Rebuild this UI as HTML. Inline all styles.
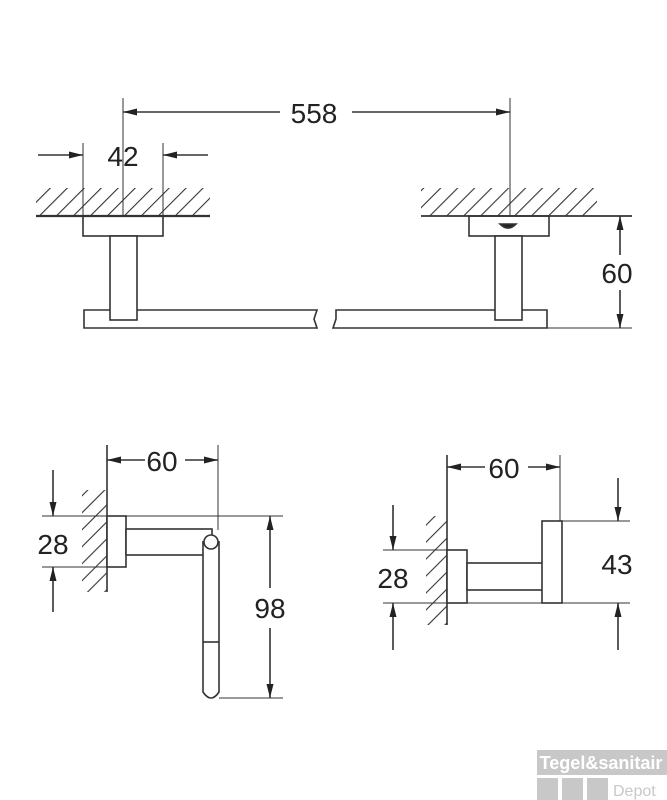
<!DOCTYPE html>
<html><head><style>body{margin:0;background:#fff}svg{display:block}</style></head><body>
<svg width="667" height="800" viewBox="0 0 667 800" xmlns="http://www.w3.org/2000/svg" font-family="Liberation Sans, sans-serif">
<defs>
<marker id="a" viewBox="0 0 14 7" refX="14" refY="3.5" markerWidth="14" markerHeight="7" orient="auto" markerUnits="userSpaceOnUse"><path d="M0,0L14,3.5L0,7z" fill="#222"/></marker>
<pattern id="h" width="12" height="12" patternUnits="userSpaceOnUse" patternTransform="rotate(45)"><line x1="0" y1="0" x2="0" y2="12" stroke="#333" stroke-width="2.2"/></pattern>
</defs>
<g stroke="#333" stroke-width="1.6" fill="none">
<line x1="123" y1="98" x2="123" y2="216" stroke-width="1"/>
<line x1="510" y1="98" x2="510" y2="216" stroke-width="1"/>
<line x1="280" y1="112" x2="123" y2="112" marker-end="url(#a)"/>
<line x1="352" y1="112" x2="510" y2="112" marker-end="url(#a)"/>
<line x1="83" y1="143" x2="83" y2="216" stroke-width="1"/>
<line x1="163" y1="143" x2="163" y2="216" stroke-width="1"/>
<line x1="38" y1="155" x2="83" y2="155" marker-end="url(#a)"/>
<line x1="208" y1="155" x2="163" y2="155" marker-end="url(#a)"/>
<rect x="36" y="188" width="174" height="28" fill="url(#h)" stroke="none"/>
<line x1="36" y1="216" x2="210" y2="216" stroke-width="2.2"/>
<rect x="83" y="216" width="80" height="20"/>
<path d="M84,310 L317,310 L314,319 L317,328 L84,328 Z" fill="#fff"/>
<path d="M336,310 L547,310 L547,328 L333,328 L336,319 Z" fill="#fff"/>
<rect x="110" y="236" width="27" height="84" fill="#fff"/>
<rect x="421" y="188" width="176" height="28" fill="url(#h)" stroke="none"/>
<line x1="421" y1="216" x2="632" y2="216" stroke-width="1.8"/>
<rect x="469" y="216" width="80" height="20"/>
<path d="M500,224 Q508,232 516,224 Z" fill="#222"/>
<rect x="495" y="236" width="27" height="84" fill="#fff"/>
<line x1="547" y1="328" x2="632" y2="328" stroke-width="1"/>
<line x1="620" y1="255" x2="620" y2="216" marker-end="url(#a)"/>
<line x1="620" y1="290" x2="620" y2="328" marker-end="url(#a)"/>
<rect x="82" y="490" width="25" height="102" fill="url(#h)" stroke="none"/>
<line x1="107" y1="445" x2="107" y2="592" stroke-width="1.6"/>
<line x1="218" y1="445" x2="218" y2="530" stroke-width="1"/>
<line x1="145" y1="460" x2="107" y2="460" marker-end="url(#a)"/>
<line x1="185" y1="460" x2="218" y2="460" marker-end="url(#a)"/>
<line x1="42" y1="516" x2="283" y2="516" stroke-width="1"/>
<line x1="42" y1="567" x2="125" y2="567" stroke-width="1"/>
<line x1="53" y1="470" x2="53" y2="516" marker-end="url(#a)"/>
<line x1="53" y1="612" x2="53" y2="567" marker-end="url(#a)"/>
<rect x="107" y="516" width="19" height="51" fill="#fff"/>
<rect x="126" y="529" width="86" height="26" fill="#fff"/>
<path d="M203,541 L203,692 Q211,704 219,692 L219,541" fill="#fff"/>
<line x1="203" y1="642" x2="219" y2="642"/>
<circle cx="211" cy="542" r="7" fill="#fff"/>
<line x1="219" y1="698" x2="283" y2="698" stroke-width="1"/>
<line x1="270" y1="588" x2="270" y2="516" marker-end="url(#a)"/>
<line x1="270" y1="628" x2="270" y2="698" marker-end="url(#a)"/>
<rect x="426" y="516" width="21" height="109" fill="url(#h)" stroke="none"/>
<line x1="447" y1="455" x2="447" y2="625" stroke-width="1.6"/>
<line x1="560" y1="455" x2="560" y2="521" stroke-width="1"/>
<line x1="485" y1="467" x2="447" y2="467" marker-end="url(#a)"/>
<line x1="528" y1="467" x2="560" y2="467" marker-end="url(#a)"/>
<line x1="383" y1="550" x2="465" y2="550" stroke-width="1"/>
<line x1="383" y1="603" x2="630" y2="603" stroke-width="1"/>
<line x1="562" y1="521" x2="630" y2="521" stroke-width="1"/>
<line x1="393" y1="505" x2="393" y2="550" marker-end="url(#a)"/>
<line x1="393" y1="650" x2="393" y2="603" marker-end="url(#a)"/>
<line x1="618" y1="478" x2="618" y2="521" marker-end="url(#a)"/>
<line x1="618" y1="650" x2="618" y2="603" marker-end="url(#a)"/>
<rect x="447" y="550" width="20" height="53" fill="#fff"/>
<rect x="467" y="563" width="85" height="27" fill="#fff"/>
<rect x="542" y="521" width="20" height="82" fill="#fff"/>
</g>
<g font-size="28" fill="#222" text-anchor="middle">
<text x="314" y="123">558</text>
<text x="123" y="166">42</text>
<text x="617" y="283">60</text>
<text x="162" y="471">60</text>
<text x="53" y="554">28</text>
<text x="270" y="618">98</text>
<text x="504" y="478">60</text>
<text x="393" y="588">28</text>
<text x="617" y="574">43</text>
</g>
<rect x="537" y="750" width="130" height="25" fill="#c8c8c8"/>
<text x="601" y="769" font-size="18" font-weight="bold" fill="#fff" text-anchor="middle">Tegel&amp;sanitair</text>
<rect x="537" y="778" width="21" height="22" fill="#c8c8c8"/>
<rect x="562" y="778" width="21" height="22" fill="#c8c8c8"/>
<rect x="587" y="778" width="21" height="22" fill="#c8c8c8"/>
<text x="613" y="796" font-size="16" fill="#c8c8c8">Depot</text>
</svg>
</body></html>
